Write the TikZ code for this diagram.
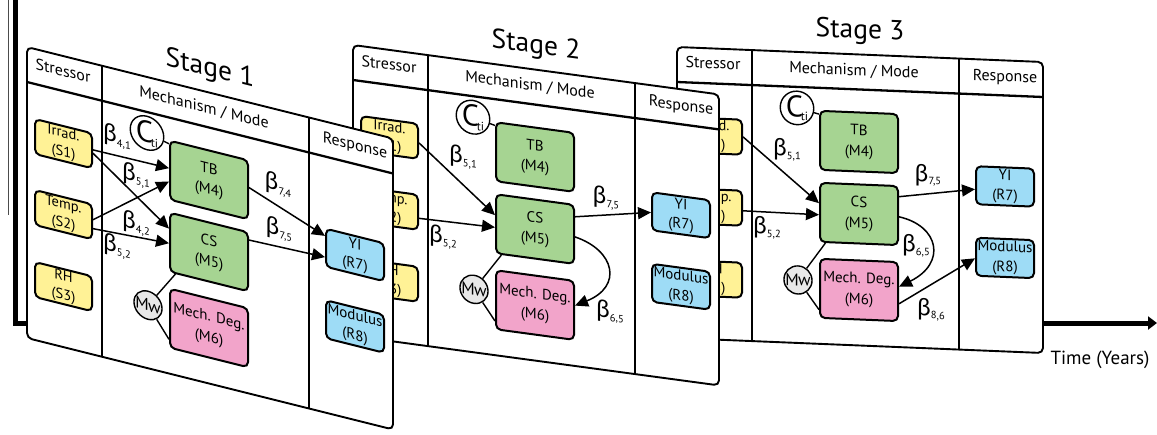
\documentclass[tikz,border=0pt]{standalone}
\usepackage{fontspec}
\setmainfont{PT Sans}
\newfontfamily\grkfont{Lato}
\usetikzlibrary{arrows.meta,calc}

\definecolor{stressfill}{RGB}{255,242,150}
\definecolor{mechfill}{RGB}{166,212,146}
\definecolor{degfill}{RGB}{242,164,202}
\definecolor{respfill}{RGB}{158,220,246}
\definecolor{mwfill}{RGB}{232,232,232}

% path coefficient: beta with a two-index subscript
\newcommand\coef[1]{{\grkfont\fontsize{24}{24}\selectfont β}\kern0.3pt\raisebox{-3pt}{\fontsize{10.5}{10.5}\selectfont #1}}

\tikzset{
  panelframe/.style={draw, line width=1.9pt, fill=white, rounded corners=5pt},
  headrule/.style={line width=2.3pt},
  colrule/.style={line width=1.5pt},
  box/.style={draw, line width=2pt, rounded corners=5pt, inner sep=0pt, align=center,
    transform shape, font=\fontsize{14.5}{19}\selectfont},
  sbox/.style={box, fill=stressfill, minimum width=57pt, minimum height=35pt},
  mbox/.style={box, fill=mechfill, minimum width=78pt, minimum height=59pt, font=\fontsize{15}{21}\selectfont},
  dbox/.style={mbox, fill=degfill},
  rbox/.style={box, fill=respfill, minimum width=58pt, minimum height=38pt, font=\fontsize{15}{20}\selectfont},
  headtext/.style={transform shape, font=\fontsize{16}{16}\selectfont, inner sep=0pt},
  stagetext/.style={transform shape, font=\fontsize{27.5}{28}\selectfont, inner sep=0pt},
  coefl/.style={transform shape, inner sep=0pt},
  cnode/.style={circle, draw, line width=1.4pt, fill=white, minimum size=28pt, inner sep=0pt, transform shape},
  link/.style={line width=1.4pt},
  arr/.style={line width=1.5pt, -{Triangle[length=13pt,width=12pt]}},
  % sheared frames of the three stages
  p1/.style={cm={1,-0.25,0,1,(27,-47)}},
  p2/.style={cm={1,-0.135,0,1,(353,-45)}},
  p3/.style={cm={1,-0.041,0,1,(677,-47)}},
}

% common contents of a stage panel: #1 name prefix, #2 frame style, #3 stage number
\newcommand\stagepanel[3]{%
  \begin{scope}[#2]
    \draw[panelframe] (0,0) rectangle (366,-291);
    \draw[headrule] (0,-35) -- (366,-35);
    \draw[colrule] (75,0) -- (75,-291);
    \draw[colrule] (282,0) -- (282,-291);
    \node[stagetext] (#1title) at (183,23) {Stage #3};
    \node[headtext] (#1hs) at (36,-14.5) {Stressor};
    \node[headtext] (#1hm) at (177,-16.5) {Mechanism / Mode};
    \node[headtext] (#1hr) at (328,-17) {Response};
    \node[sbox] (#1s1) at (36.5,-87.5) {Irrad.\\(S1)};
    \node[sbox] (#1s2) at (36.5,-158.5) {Temp.\\(S2)};
    \node[sbox] (#1s3) at (36.5,-230.5) {RH\\(S3)};
    \node[mbox] (#1m4) at (182,-87.5) {TB\\(M4)};
    \node[mbox] (#1m5) at (182,-159.5) {CS\\(M5)};
    \node[dbox] (#1m6) at (182,-235.5) {Mech. Deg.\\(M6)};
    \node[rbox] (#1r7) at (328,-126) {YI\\(R7)};
    \node[rbox] (#1r8) at (328,-197.5) {Modulus\\(R8)};
    \node[cnode] (#1ct) at (120,-56) {{\fontsize{30}{30}\selectfont C}\kern-2pt\raisebox{-3.5pt}{\fontsize{12}{12}\selectfont ti}};
    \node[cnode, fill=mwfill] (#1mw) at (121,-228) {\fontsize{17}{17}\selectfont M\kern-0.5pt w};
    \draw[link] (#1ct) -- ($(#1m4.north west)!0.07!(#1m4.south west)$);
    \draw[link] (#1mw) -- ($(#1m5.south west)!0.08!(#1m5.south east)$);
    \draw[link] (#1mw) -- ($(#1m6.south west)!0.15!(#1m6.north west)$);
  \end{scope}}

\begin{document}
\begin{tikzpicture}[x=1pt,y=1pt]
\useasboundingbox (0,0) rectangle (1157,-434);

% time axis behind the panels
\coordinate (axtop) at (15.5,0);
\coordinate (axcorner) at (15.5,-323);
\coordinate (axend) at (1157,-323);
\draw[line width=0.8pt, black!70] (8,0) -- (8,-215);
\draw[line width=5pt, -{Triangle[length=9pt,width=13pt]}] (axtop) -- (axcorner) -- (axend);
\node[font=\fontsize{19}{20}\selectfont, inner sep=0pt] (timelabel) at (1100,-360) {Time (Years)};

% ---- Stage 3 ----
\stagepanel{c}{p3}{3}
\begin{scope}[p3]
  \draw[arr] ($(cs1.north east)!0.49!(cs1.south east)$) -- ($(cm5.north west)!0.35!(cm5.south west)$);
  \draw[arr] ($(cs2.north east)!0.57!(cs2.south east)$) -- ($(cm5.north west)!0.54!(cm5.south west)$);
  \draw[arr] ($(cm5.north east)!0.19!(cm5.south east)$) -- ($(cr7.north west)!0.6!(cr7.south west)$);
  \draw[arr] ($(cm5.north east)!0.52!(cm5.south east)$) .. controls (262,-168) and (270,-205) .. ($(cm6.north east)!0.42!(cm6.south east)$);
  \draw[arr] ($(cm6.north east)!0.7!(cm6.south east)$) -- ($(cr8.north west)!0.54!(cr8.south west)$);
  \node[coefl] (cb51) at (110,-98.5) {\coef{5,1}};
  \node[coefl] (cb52) at (90,-177) {\coef{5,2}};
  \node[coefl] (cb75) at (251,-118) {\coef{7,5}};
  \node[coefl] (cb65) at (239,-189) {\coef{6,5}};
  \node[coefl] (cb86) at (254,-252) {\coef{8,6}};
\end{scope}

% ---- Stage 2 ----
\stagepanel{b}{p2}{2}
\begin{scope}[p2]
  \draw[arr] ($(bs1.north east)!0.54!(bs1.south east)$) -- ($(bm5.north west)!0.36!(bm5.south west)$);
  \draw[arr] ($(bs2.north east)!0.66!(bs2.south east)$) -- ($(bm5.north west)!0.56!(bm5.south west)$);
  \draw[arr] ($(bm5.north east)!0.21!(bm5.south east)$) -- ($(br7.north west)!0.53!(br7.south west)$);
  \draw[arr] ($(bm5.north east)!0.54!(bm5.south east)$) .. controls (262,-170) and (270,-205) .. ($(bm6.north east)!0.42!(bm6.south east)$);
  \node[coefl] (bb51) at (110,-97) {\coef{5,1}};
  \node[coefl] (bb52) at (90,-180) {\coef{5,2}};
  \node[coefl] (bb75) at (253,-119) {\coef{7,5}};
  \node[coefl] (bb65) at (257,-232) {\coef{6,5}};
\end{scope}

% ---- Stage 1 ----
\stagepanel{a}{p1}{1}
\begin{scope}[p1]
  \draw[arr] ($(as1.north east)!0.47!(as1.south east)$) -- ($(am4.north west)!0.47!(am4.south west)$);
  \draw[arr] ($(as1.north east)!0.56!(as1.south east)$) -- ($(am5.north west)!0.28!(am5.south west)$);
  \draw[arr] ($(as2.north east)!0.44!(as2.south east)$) -- ($(am4.north west)!0.69!(am4.south west)$);
  \draw[arr] ($(as2.north east)!0.68!(as2.south east)$) -- ($(am5.north west)!0.52!(am5.south west)$);
  \draw[arr] ($(am4.north east)!0.46!(am4.south east)$) -- ($(ar7.north west)!0.21!(ar7.south west)$);
  \draw[arr] ($(am5.north east)!0.14!(am5.south east)$) -- ($(ar7.north west)!0.74!(ar7.south west)$);
  \node[coefl] (ab41) at (90,-67.5) {\coef{4,1}};
  \node[coefl] (ab51) at (109,-101) {\coef{5,1}};
  \node[coefl] (ab42) at (109,-149) {\coef{4,2}};
  \node[coefl] (ab52) at (90,-177) {\coef{5,2}};
  \node[coefl] (ab74) at (251,-75) {\coef{7,4}};
  \node[coefl] (ab75) at (252,-119) {\coef{7,5}};
\end{scope}
\end{tikzpicture}
\end{document}
